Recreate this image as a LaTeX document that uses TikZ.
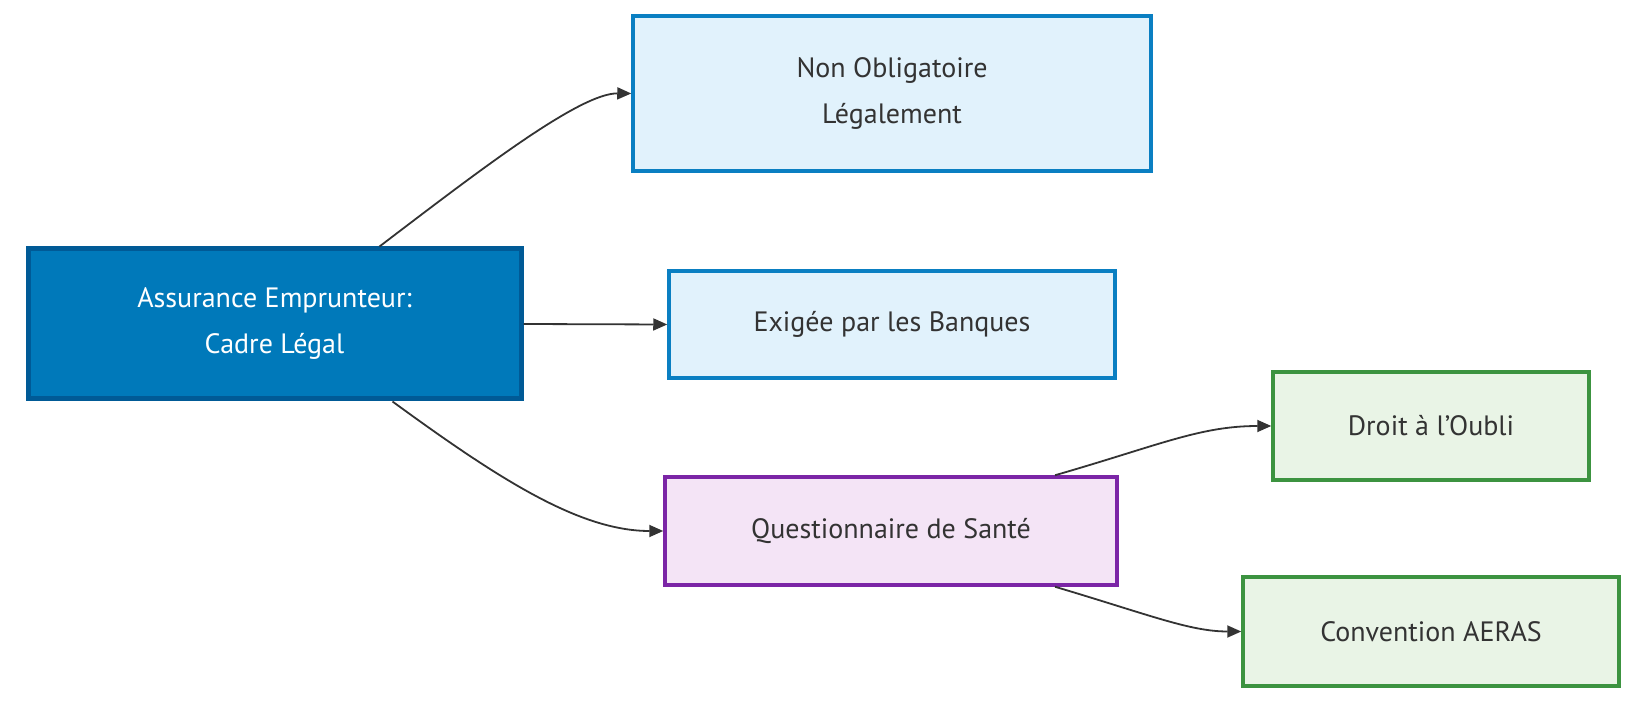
\documentclass[tikz,border=0pt]{standalone}
\usepackage{fontspec}
\setmainfont{PT Sans}
\usetikzlibrary{arrows.meta}
\definecolor{lb}{HTML}{E1F2FC}\definecolor{bb}{HTML}{0A7FC2}
\definecolor{mf}{HTML}{0079BA}\definecolor{mb}{HTML}{005A96}
\definecolor{pf}{HTML}{F4E4F6}\definecolor{pb}{HTML}{7B25A6}
\definecolor{gf}{HTML}{E9F4E6}\definecolor{gb}{HTML}{3C9340}
\definecolor{tx}{HTML}{333333}
\begin{document}
\begin{tikzpicture}[x=1pt,y=-1pt,
 box/.style={draw,line width=3.5pt,inner sep=0,align=center,font=\fontsize{28}{46}\selectfont,text=tx},
 ar/.style={draw=tx,line width=1.8pt,-{Triangle[length=14pt,width=12pt]}}]
\useasboundingbox (0,0) rectangle (1650,708);
\node[box,fill=mf,draw=mb,line width=5pt,text=white,minimum width=493pt,minimum height=150pt] (m) at (274.5,324) {Assurance Emprunteur:\\Cadre Légal};
\node[box,fill=lb,draw=bb,minimum width=518pt,minimum height=155pt] (n) at (892,93.5) {Non Obligatoire\\Légalement};
\node[box,fill=lb,draw=bb,minimum width=446pt,minimum height=107pt] (e) at (892,324.5) {Exigée par les Banques};
\node[box,fill=pf,draw=pb,minimum width=452pt,minimum height=108pt] (q) at (891,531) {Questionnaire de Santé};
\node[box,fill=gf,draw=gb,minimum width=316pt,minimum height=108pt] (d) at (1431,426) {Droit à l'Oubli};
\node[box,fill=gf,draw=gb,minimum width=376pt,minimum height=109pt] (a) at (1431,631.5) {Convention AERAS};
\draw[ar] ([xshift=105pt]m.north) .. controls (480,170) and (580,93) .. (n.west);
\draw[ar] (m.east) -- (e.west);
\draw[ar] ([xshift=118pt]m.south) .. controls (500,480) and (580,531) .. (q.west);
\draw[ar] ([xshift=164pt]q.north) .. controls (1160,445) and (1200,426) .. (d.west);
\draw[ar] ([xshift=164pt]q.south) .. controls (1150,615) and (1190,631.5) .. (a.west);
\end{tikzpicture}
\end{document}
